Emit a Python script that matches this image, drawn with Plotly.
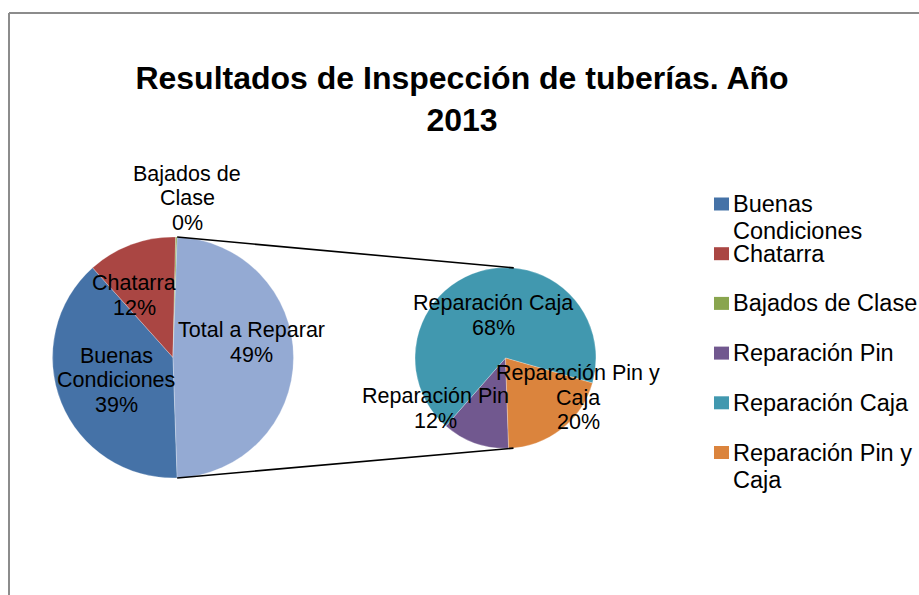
import math
import plotly.graph_objects as go

W, H = 919, 595

# ---- data ----
main_labels = ["Buenas Condiciones", "Chatarra", "Bajados de Clase", "Total a Reparar"]
main_values = [39, 12, 0.2, 49]
main_colors = ["#4572A7", "#AA4643", "#89A54E", "#94AAD3"]
main_wrapped = [["Buenas", "Condiciones"], ["Chatarra"], ["Bajados de", "Clase"], ["Total a Reparar"]]

sec_labels = ["Reparación Pin", "Reparación Caja", "Reparación Pin y Caja"]
sec_values = [12, 68, 20]
sec_colors = ["#71588F", "#4198AF", "#DB843D"]
sec_wrapped = [["Reparación Pin"], ["Reparación Caja"], ["Reparación Pin y", "Caja"]]

legend_labels = ["Buenas Condiciones", "Chatarra", "Bajados de Clase",
                 "Reparación Pin", "Reparación Caja", "Reparación Pin y Caja"]
legend_wrapped = [["Buenas", "Condiciones"], ["Chatarra"], ["Bajados de Clase"],
                  ["Reparación Pin"], ["Reparación Caja"], ["Reparación Pin y", "Caja"]]
legend_colors = main_colors[:3] + sec_colors

title_text = "Resultados de Inspección de tuberías. Año<br>2013"

# ---- layout geometry (pixels) ----
FONT = "Liberation Sans, Arial, sans-serif"
m_cx, m_cy, m_r = 173.0, 357.5, 120.5
s_cx, s_cy, s_r = 505.5, 358.0, 90.5

def X(px):
    return px / W

def Y(py):
    return 1 - py / H

total_span = 360.0 * main_values[-1] / sum(main_values)
rot = 90 + total_span / 2

fig = go.Figure()
fig.add_trace(go.Pie(
    labels=main_labels, values=main_values, sort=False, direction="clockwise",
    rotation=rot, marker=dict(colors=main_colors, line=dict(color="rgba(255,255,255,0.5)", width=0.5)),
    textinfo="none", hoverinfo="label+percent", showlegend=False,
    domain=dict(x=[X(m_cx - m_r), X(m_cx + m_r)], y=[Y(m_cy + m_r), Y(m_cy - m_r)]),
))
fig.add_trace(go.Pie(
    labels=sec_labels, values=sec_values, sort=False, direction="clockwise",
    rotation=rot, marker=dict(colors=sec_colors, line=dict(color="rgba(255,255,255,0.5)", width=0.5)),
    textinfo="none", hoverinfo="label+percent", showlegend=False,
    domain=dict(x=[X(s_cx - s_r), X(s_cx + s_r)], y=[Y(s_cy + s_r), Y(s_cy - s_r)]),
))

shapes = []
# outer chart border (extends beyond the image on right/bottom)
shapes.append(dict(type="line", xref="paper", yref="paper", x0=X(9), x1=X(9), y0=Y(13), y1=Y(600),
                   line=dict(color="#8c8c8c", width=2)))
shapes.append(dict(type="line", xref="paper", yref="paper", x0=X(9), x1=X(925), y0=Y(13), y1=Y(13),
                   line=dict(color="#8c8c8c", width=2)))

# connector lines: from edges of the aggregated slice to tangent points on the secondary pie
def edge_point(angle_deg):
    a = math.radians(angle_deg)
    return m_cx + m_r * math.sin(a), m_cy - m_r * math.cos(a)

def tangent_point(px, py, upper):
    dx, dy = px - s_cx, py - s_cy
    d = math.hypot(dx, dy)
    base = math.atan2(dy, dx)
    off = math.acos(s_r / d)
    cands = [base + off, base - off]
    pts = [(s_cx + s_r * math.cos(c), s_cy + s_r * math.sin(c)) for c in cands]
    pts.sort(key=lambda p: p[1])
    return pts[0] if upper else pts[1]

for ang, upper in [(90 - total_span / 2, True), (90 + total_span / 2, False)]:
    p = edge_point(ang)
    t = tangent_point(p[0], p[1], upper)
    shapes.append(dict(type="line", xref="paper", yref="paper",
                       x0=X(p[0]), y0=Y(p[1]), x1=X(t[0]), y1=Y(t[1]),
                       line=dict(color="black", width=1.6)))

annotations = []

def add_lines(lines, xc, y0, spacing, size, xanchor="center"):
    for k, ln in enumerate(lines):
        annotations.append(dict(xref="paper", yref="paper", x=X(xc), y=Y(y0 + k * spacing),
                                text=ln, showarrow=False, xanchor=xanchor, yanchor="middle",
                                font=dict(family=FONT, size=size, color="black")))

def pct(vals):
    s = sum(vals)
    return [f"{round(v / s * 100)}%" for v in vals]

# data labels
main_pos = [(116, 356), (134, 283), (187, 174), (251, 330)]
for lines, p, (xc, yc) in zip(main_wrapped, pct(main_values), main_pos):
    add_lines(lines + [p], xc, yc, 24.5, 21.5)
sec_pos = [(435, 396), (493, 303), (578, 373)]
for lines, p, (xc, yc) in zip(sec_wrapped, pct(sec_values), sec_pos):
    add_lines(lines + [p], xc, yc, 24.5, 21.5)

# legend
for i, (lines, col) in enumerate(zip(legend_wrapped, legend_colors)):
    yc = 204 + i * 49.7
    shapes.append(dict(type="rect", xref="paper", yref="paper",
                       x0=X(714), x1=X(729), y0=Y(yc - 6.5), y1=Y(yc + 6.5),
                       fillcolor=col, line=dict(width=0)))
    add_lines(lines, 731, yc, 27, 23.5, xanchor="left")

fig.update_layout(
    width=W, height=H,
    margin=dict(l=0, r=0, t=0, b=0),
    paper_bgcolor="white", plot_bgcolor="white",
    showlegend=False,
    title=dict(text=title_text, x=X(462), xanchor="center", y=Y(89), yanchor="middle",
               xref="paper", yref="paper",
               font=dict(family=FONT, size=32, color="black", weight="bold")),
    shapes=shapes, annotations=annotations,
)

fig.write_html("out.html", config={"displayModeBar": False},
               post_script="document.body.style.margin='0';")
